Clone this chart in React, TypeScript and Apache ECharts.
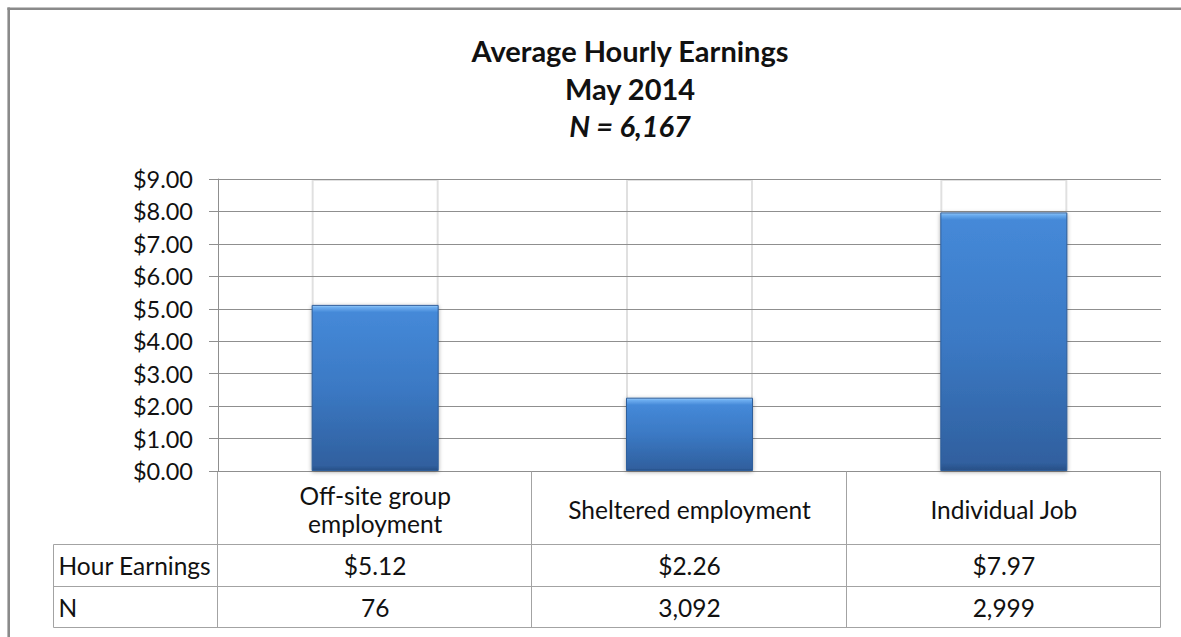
import React, { useEffect, useRef } from "react";
import * as echarts from "echarts";

// ---- data ----
const categories = ["Off-site group\nemployment", "Sheltered employment", "Individual Job"];
const hourlyEarnings = [5.12, 2.26, 7.97];
const counts = [76, 3092, 2999];
const rowLabels = ["Hour Earnings", "N"];
const titleLines = ["Average Hourly Earnings", "May 2014", "N = 6,167"];
const Y_MIN = 0;
const Y_MAX = 9;
const Y_INTERVAL = 1;

// ---- layout ----
const W = 1181;
const H = 637;
const GRID_LEFT = 218;
const GRID_RIGHT_X = 1161;
const GRID_TOP = 179;
const GRID_BOTTOM_Y = 471;
const TABLE_LEFT = 53.5;
const ROW_LINES = [544.5, 586.5, 627.5];
const FONT = "Lato, 'Open Sans', sans-serif";
const TEXT = "#111111";
const TABLE_LINE = "#a3a3a3";
const GRID_LINE = "#8f8f8f";

export default function App() {
  const ref = useRef<HTMLDivElement>(null);

  useEffect(() => {
    if (!ref.current) return;
    const chart = echarts.init(ref.current, null, { renderer: "svg" });
    const pxPerUnit = (GRID_BOTTOM_Y - GRID_TOP) / (Y_MAX - Y_MIN);

    const barData = hourlyEarnings.map((v) => {
      const h = Math.max(v * pxPerUnit, 1);
      const a = Math.min(2 / h, 0.2);
      const b = Math.min(7 / h, 0.3);
      return {
        value: v,
        itemStyle: {
          color: new echarts.graphic.LinearGradient(0, 0, 0, 1, [
            { offset: 0, color: "#9ccdf8" },
            { offset: a, color: "#6eaef0" },
            { offset: b, color: "#4589d8" },
            { offset: 0.5, color: "#3b79c4" },
            { offset: 0.97, color: "#30609f" },
            { offset: 1, color: "#294f86" },
          ]),
        },
      };
    });

    chart.setOption({
      animation: false,
      grid: {
        left: GRID_LEFT,
        right: W - GRID_RIGHT_X,
        top: GRID_TOP,
        bottom: H - GRID_BOTTOM_Y,
        containLabel: false,
      },
      xAxis: {
        type: "category",
        data: categories,
        axisLabel: { show: false },
        axisTick: { show: false },
        axisLine: { show: false },
        splitLine: { show: false },
      },
      yAxis: {
        type: "value",
        min: Y_MIN,
        max: Y_MAX,
        interval: Y_INTERVAL,
        axisLine: { show: true, lineStyle: { color: GRID_LINE, width: 1 } },
        axisTick: { show: true, length: 9, lineStyle: { color: GRID_LINE, width: 1 } },
        axisLabel: {
          margin: 25,
          color: TEXT,
          fontFamily: FONT,
          fontSize: 23.5,
          formatter: (v: number) => `$${v.toFixed(2)}`,
        },
        splitLine: { show: true, lineStyle: { color: GRID_LINE, width: 1 } },
      },
      series: [
        {
          type: "bar",
          data: categories.map(() => Y_MAX),
          barWidth: "40.4%",
          barGap: "-100%",
          silent: true,
          z: -1,
          itemStyle: {
            color: "rgba(0,0,0,0)",
            borderColor: "rgba(0,0,0,0.12)",
            borderWidth: 2,
          },
        },
        {
          type: "bar",
          data: barData,
          barWidth: "40.4%",
          barGap: "-100%",
          z: 3,
          itemStyle: {
            borderColor: "#2f5f9c",
            borderWidth: 1,
            shadowColor: "rgba(0,0,0,0.35)",
            shadowBlur: 4,
            shadowOffsetY: 1,
          },
        },
      ],
    });

    // table and title built from axis positions
    const centers = categories.map((_, i) => chart.convertToPixel({ xAxisIndex: 0 }, i) as number);
    const half = (centers[1] - centers[0]) / 2;
    const bounds = [centers[0] - half, ...centers.map((c) => c + half)].map((x) => Math.round(x) - 0.5);
    const top = GRID_BOTTOM_Y + 0.5;

    const els: any[] = [];
    const line = (x1: number, y1: number, x2: number, y2: number, stroke = TABLE_LINE, lw = 1) =>
      els.push({
        type: "line",
        silent: true,
        shape: { x1, y1, x2, y2 },
        style: { stroke, lineWidth: lw },
      });
    const text = (t: string, x: number, y: number, align: string, font: string, lh?: number) =>
      els.push({
        type: "text",
        silent: true,
        x,
        y,
        style: {
          text: t,
          fill: TEXT,
          font,
          textAlign: align,
          textVerticalAlign: "middle",
          lineHeight: lh,
        },
      });

    // vertical lines
    bounds.forEach((x) => line(x, top, x, ROW_LINES[2]));
    line(TABLE_LEFT, ROW_LINES[0], TABLE_LEFT, ROW_LINES[2]);
    // horizontal lines
    ROW_LINES.forEach((y) => line(TABLE_LEFT, y, bounds[bounds.length - 1], y));

    const cellFont = `24.5px ${FONT}`;
    const headerMid = (top + ROW_LINES[0]) / 2;
    const rowMids = [(ROW_LINES[0] + ROW_LINES[1]) / 2, (ROW_LINES[1] + ROW_LINES[2]) / 2];
    categories.forEach((c, i) => text(c, centers[i], headerMid + 1, "center", cellFont, 28));
    text(rowLabels[0], TABLE_LEFT + 5, rowMids[0], "left", cellFont);
    text(rowLabels[1], TABLE_LEFT + 5, rowMids[1], "left", cellFont);
    hourlyEarnings.forEach((v, i) => text(`$${v.toFixed(2)}`, centers[i], rowMids[0], "center", cellFont));
    counts.forEach((v, i) => text(v.toLocaleString("en-US"), centers[i], rowMids[1], "center", cellFont));

    // title
    const titleY = [50, 88, 125];
    titleLines.forEach((t, i) =>
      text(t, 630, titleY[i], "center", `${i === 2 ? "italic " : ""}bold 29px ${FONT}`)
    );

    // outer frame: only top and left edges fall inside the picture
    line(7.4, 8.7, W, 8.7, "#8a8a8a", 2.6);
    line(8.7, 7.4, 8.7, H, "#8a8a8a", 2.6);

    chart.setOption({ graphic: { elements: els } });

    return () => chart.dispose();
  }, []);

  return (
    <div
      ref={ref}
      style={{
        position: "fixed",
        left: 0,
        top: 0,
        width: W,
        height: H,
        overflow: "hidden",
        background: "#fff",
      }}
    />
  );
}
